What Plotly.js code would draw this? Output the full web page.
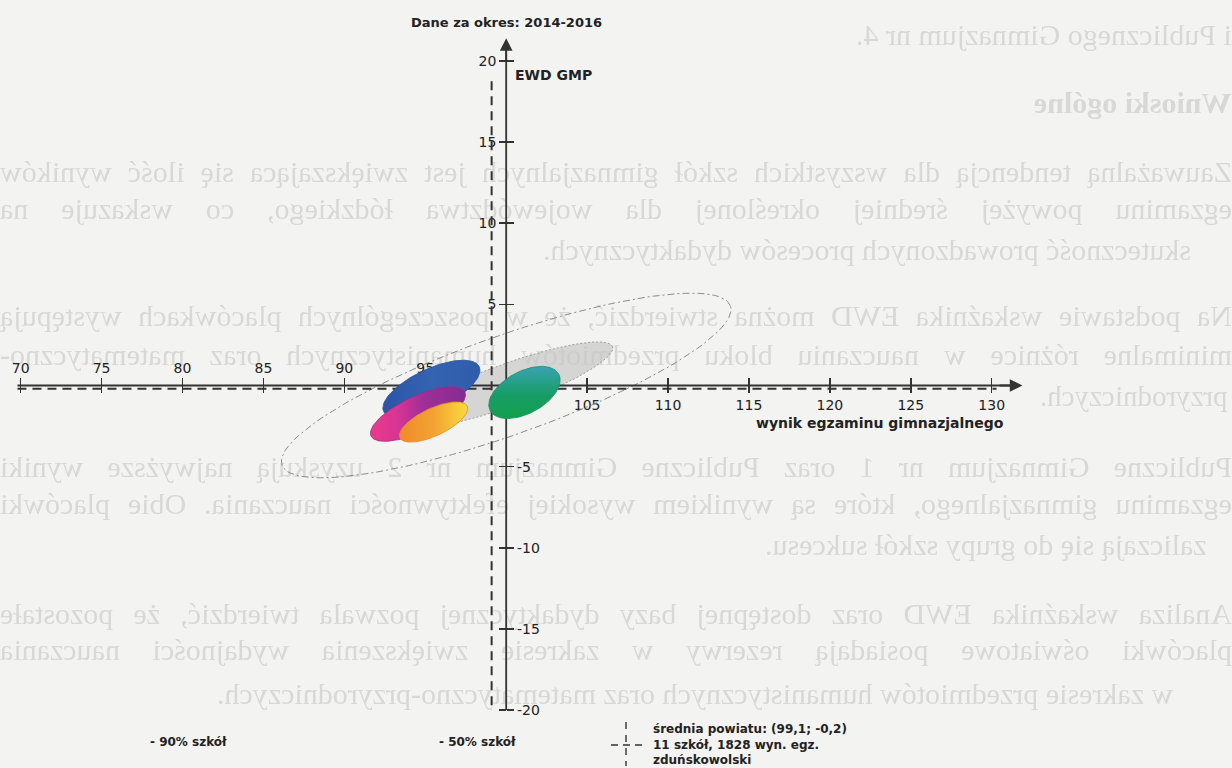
<!DOCTYPE html>
<html><head><meta charset="utf-8">
<script src="https://cdn.plot.ly/plotly-3.0.1.min.js"></script>
<style>
html,body{margin:0;padding:0;background:#f3f3f2;width:1232px;height:768px;overflow:hidden;}
#ghost{position:absolute;left:0;top:0;width:1232px;height:768px;overflow:hidden;z-index:0;filter:blur(0.7px);}
.gl{position:absolute;font-family:'Liberation Serif',serif;font-size:30px;line-height:36px;color:#d8d8d8;white-space:nowrap;transform:scaleX(-1);}
.gj{text-align:justify;text-align-last:justify;white-space:normal;}
#chart{position:absolute;left:0;top:0;width:1232px;height:768px;z-index:1;}
</style></head><body>
<div id="ghost"></div><div id="chart"></div>
<script>
// ---- chart data ----
const xTickVals = [70, 75, 80, 85, 90, 95, 105, 110, 115, 120, 125, 130];
const yTickVals = [-20, -15, -10, -5, 5, 10, 15, 20];
const axisCrossX = 100, axisCrossY = 0;
const meanX = 99.1, meanY = -0.2;
const ellNames  = ['90% szkół', '50% szkół', 'szkoła A', 'szkoła B', 'szkoła C', 'szkoła D'];
const ellCx     = [100.0, 100.0, 95.38, 94.55, 95.51, 101.13];
const ellCy     = [0.0, 0.0, -0.22, -1.76, -2.25, -0.43];
const ellA      = [14.7, 7.0, 3.26, 3.2, 2.3, 2.4];
const ellB      = [3.05, 1.3, 1.24, 1.1, 0.85, 1.3];
const ellAngle  = [19.5, 20, 25, 25, 25, 28];
const legendLines = ['średnia powiatu: (99,1; -0,2)', '11 szkół, 1828 wyn. egz.', 'zduńskowolski'];

// ---- ghost (show-through) text of the scanned page ----
const ghostLines = [
  {y: 35,  right: 0,   t: 'i Publicznego Gimnazjum nr 4.'},
  {y: 103, right: 0,   t: 'Wnioski ogólne', b: true},
  {y: 172, j: true, t: 'Zauważalną tendencją dla wszystkich szkół gimnazjalnych jest zwiększająca się ilość wyników'},
  {y: 209, j: true, t: 'egzaminu powyżej średniej określonej dla województwa łódzkiego, co wskazuje na'},
  {y: 250, left: 543, t: 'skuteczność prowadzonych procesów dydaktycznych.'},
  {y: 316, j: true, t: 'Na podstawie wskaźnika EWD można stwierdzić, że w poszczególnych placówkach występują'},
  {y: 355, j: true, t: 'minimalne różnice w nauczaniu bloku przedmiotów humanistycznych oraz matematyczno-'},
  {y: 396, left: 1040, t: 'przyrodniczych.'},
  {y: 467, j: true, t: 'Publiczne Gimnazjum nr 1 oraz Publiczne Gimnazjum nr 2 uzyskują najwyższe wyniki'},
  {y: 504, j: true, t: 'egzaminu gimnazjalnego, które są wynikiem wysokiej efektywności nauczania. Obie placówki'},
  {y: 545, left: 765, t: 'zaliczają się do grupy szkół sukcesu.'},
  {y: 614, j: true, t: 'Analiza wskaźnika EWD oraz dostępnej bazy dydaktycznej pozwala twierdzić, że pozostałe'},
  {y: 650, j: true, t: 'placówki oświatowe posiadają rezerwy w zakresie zwiększenia wydajności nauczania'},
  {y: 694, left: 217, t: 'w zakresie przedmiotów humanistycznych oraz matematyczno-przyrodniczych.'}
];
const ghost = document.getElementById('ghost');
ghostLines.forEach(g => {
  const d = document.createElement('div');
  d.className = 'gl' + (g.j ? ' gj' : '');
  d.textContent = g.t;
  d.style.top = (g.y - 18) + 'px';
  if (g.b) d.style.fontWeight = 'bold';
  if (g.j) { d.style.left = '0px'; d.style.width = '1232px'; }
  else if (g.left !== undefined) d.style.left = g.left + 'px';
  else d.style.right = g.right + 'px';
  ghost.appendChild(d);
  let fs = 30;
  while (g.j && d.offsetHeight > 40 && fs > 20) { fs--; d.style.fontSize = fs + 'px'; }
  if (!g.j) {
    while (d.getBoundingClientRect().right > 1232 && fs > 18) { fs--; d.style.fontSize = fs + 'px'; }
  }
});

// ---- plot geometry ----
const W = 1232, H = 768;
const xr = [68.721, 144.85];
const yr = [-23.568, 23.752];
const xAxisFrom = 69.8, xAxisTo = 131.9, yAxisFrom = -20, yAxisTo = 21.4;
const xPos = (axisCrossX - xr[0]) / (xr[1] - xr[0]);
const yPos = (axisCrossY - yr[0]) / (yr[1] - yr[0]);
const PX = p => p / W, PY = p => 1 - p / H;

function ellipse(i) {
  const th = ellAngle[i] * Math.PI / 180, xs = [], ys = [];
  for (let k = 0; k <= 120; k++) {
    const t = k / 120 * 2 * Math.PI;
    const u = ellA[i] * Math.cos(t), v = ellB[i] * Math.sin(t);
    xs.push(ellCx[i] + u * Math.cos(th) - v * Math.sin(th));
    ys.push(ellCy[i] + u * Math.sin(th) + v * Math.cos(th));
  }
  return {x: xs, y: ys};
}
const base = {type: 'scatter', mode: 'lines', hoverinfo: 'skip', showlegend: false};
const e = ellNames.map((n, i) => ellipse(i));

const fills = [
  null, null,
  {type: 'horizontal', colorscale: [[0, '#2b55a6'], [0.5, '#3463b2'], [1, '#2f5dab']]},
  {type: 'horizontal', colorscale: [[0, '#ec3a8b'], [0.28, '#d83594'], [0.55, '#a02f97'], [1, '#842c93']]},
  {type: 'horizontal', colorscale: [[0, '#ee8a2a'], [0.5, '#f3a233'], [1, '#f7dc3e']]},
  {type: 'vertical',   colorscale: [[0, '#12a04c'], [0.45, '#179d66'], [1, '#3aa2b2']]}
];
const edge = ['', '', '#2a4f98', '#9b2c86', '#e08a2a', '#17906a'];

const traces = [
  Object.assign({}, base, {name: ellNames[0], x: e[0].x, y: e[0].y,
    line: {color: '#8c8c8c', width: 1, dash: '7px,3px,2px,3px'}}),
  Object.assign({}, base, {name: ellNames[1], x: e[1].x, y: e[1].y, fill: 'toself',
    fillcolor: 'rgba(200,200,200,0.7)', line: {color: 'rgba(130,130,130,0.7)', width: 1, dash: '2px,2px'}}),
  Object.assign({}, base, {x: [xAxisFrom, xAxisTo - 0.5], y: [axisCrossY, axisCrossY], line: {color: '#333', width: 1.8}}),
  Object.assign({}, base, {x: [axisCrossX, axisCrossX], y: [yAxisFrom, yAxisTo - 0.5], line: {color: '#333', width: 1.8}}),
  Object.assign({}, base, {x: [xAxisFrom, 130.3], y: [meanY, meanY], line: {color: '#333', width: 2, dash: '9px,6px'}}),
  Object.assign({}, base, {x: [meanX, meanX], y: [-19.7, 18.8], line: {color: '#333', width: 2, dash: '9px,6px'}})
];
for (let i = 2; i < ellNames.length; i++) {
  traces.push(Object.assign({}, base, {name: ellNames[i], x: e[i].x, y: e[i].y, fill: 'toself',
    fillcolor: fills[i].colorscale[1][1], fillgradient: fills[i], line: {color: edge[i], width: 0.8}}));
}
// invisible trace so that the overlaying axes (x2 / y2) are drawn
traces.push({type: 'scatter', mode: 'markers', x: [axisCrossX], y: [axisCrossY], xaxis: 'x2', yaxis: 'y2',
  marker: {opacity: 0, size: 1}, hoverinfo: 'skip', showlegend: false});

const tf = {family: 'DejaVu Sans', size: 14, color: '#222'};
const common = {showgrid: false, zeroline: false, showline: false, ticks: 'outside', ticklen: 7,
  tickwidth: 1.5, tickcolor: '#333', tickfont: tf, tickmode: 'array', anchor: 'free', layer: 'below traces',
  fixedrange: true, autorange: false};

const layout = {
  width: W, height: H, margin: {l: 0, r: 0, t: 0, b: 0, pad: 0},
  paper_bgcolor: 'rgba(0,0,0,0)', plot_bgcolor: 'rgba(0,0,0,0)', showlegend: false,
  xaxis: Object.assign({}, common, {range: xr, domain: [0, 1], position: yPos, side: 'bottom',
    tickvals: xTickVals, ticktext: xTickVals.map(v => v > axisCrossX ? String(v) : '')}),
  xaxis2: Object.assign({}, common, {range: xr, domain: [0, 1], position: yPos, side: 'top', overlaying: 'x',
    tickvals: xTickVals, ticktext: xTickVals.map(v => v < axisCrossX ? String(v) : '')}),
  yaxis: Object.assign({}, common, {range: yr, domain: [0, 1], position: xPos, side: 'left',
    tickvals: yTickVals, ticktext: yTickVals.map(v => v > 0 ? String(v) : '')}),
  yaxis2: Object.assign({}, common, {range: yr, domain: [0, 1], position: xPos, side: 'right', overlaying: 'y',
    tickvals: yTickVals, ticktext: yTickVals.map(v => v < 0 ? '-' + Math.abs(v) : '')}),
  annotations: [
    {xref: 'paper', yref: 'paper', x: PX(506), y: PY(22), text: '<b>Dane za okres: 2014-2016</b>', showarrow: false,
      xanchor: 'center', yanchor: 'middle', font: {family: 'DejaVu Sans', size: 13, color: '#222'}},
    {xref: 'paper', yref: 'paper', x: PX(513), y: PY(75), text: '<b>EWD GMP</b>', showarrow: false,
      xanchor: 'left', yanchor: 'middle', font: {family: 'DejaVu Sans', size: 14, color: '#222'}},
    {xref: 'paper', yref: 'paper', x: PX(1006), y: PY(423), text: '<b>wynik egzaminu gimnazjalnego</b>', showarrow: false,
      xanchor: 'right', yanchor: 'middle', font: {family: 'DejaVu Sans', size: 14, color: '#222'}},
    {xref: 'x', yref: 'y', axref: 'x', ayref: 'y', x: xAxisTo, y: axisCrossY, ax: xAxisTo - 1.5, ay: axisCrossY, text: '',
      showarrow: true, arrowhead: 2, arrowsize: 1.4, arrowwidth: 1.8, arrowcolor: '#333', standoff: 0},
    {xref: 'x', yref: 'y', axref: 'x', ayref: 'y', x: axisCrossX, y: yAxisTo, ax: axisCrossX, ay: yAxisTo - 1.5, text: '',
      showarrow: true, arrowhead: 2, arrowsize: 1.4, arrowwidth: 1.8, arrowcolor: '#333', standoff: 0},
    {xref: 'paper', yref: 'paper', x: PX(188), y: PY(742), text: '<b>- ' + ellNames[0] + '</b>', showarrow: false,
      xanchor: 'center', yanchor: 'middle', font: {family: 'DejaVu Sans', size: 12, color: '#222'}},
    {xref: 'paper', yref: 'paper', x: PX(477), y: PY(742), text: '<b>- ' + ellNames[1] + '</b>', showarrow: false,
      xanchor: 'center', yanchor: 'middle', font: {family: 'DejaVu Sans', size: 12, color: '#222'}}
  ].concat(legendLines.map((t, i) => ({xref: 'paper', yref: 'paper', x: PX(651), y: PY(729 + i * 15.5),
      text: '<b>' + t + '</b>', showarrow: false, xanchor: 'left', yanchor: 'middle',
      font: {family: 'DejaVu Sans', size: 12, color: '#222'}}))),
  shapes: [
    {type: 'line', xref: 'paper', yref: 'paper', x0: PX(626), x1: PX(626), y0: PY(722), y1: PY(766),
      line: {color: '#333', width: 1.4, dash: '7px,6px'}},
    {type: 'line', xref: 'paper', yref: 'paper', x0: PX(611), x1: PX(642), y0: PY(745), y1: PY(745),
      line: {color: '#333', width: 1.4, dash: '7px,5px'}}
  ]
};

Plotly.newPlot('chart', traces, layout, {staticPlot: true, displayModeBar: false});
</script>
</body></html>
